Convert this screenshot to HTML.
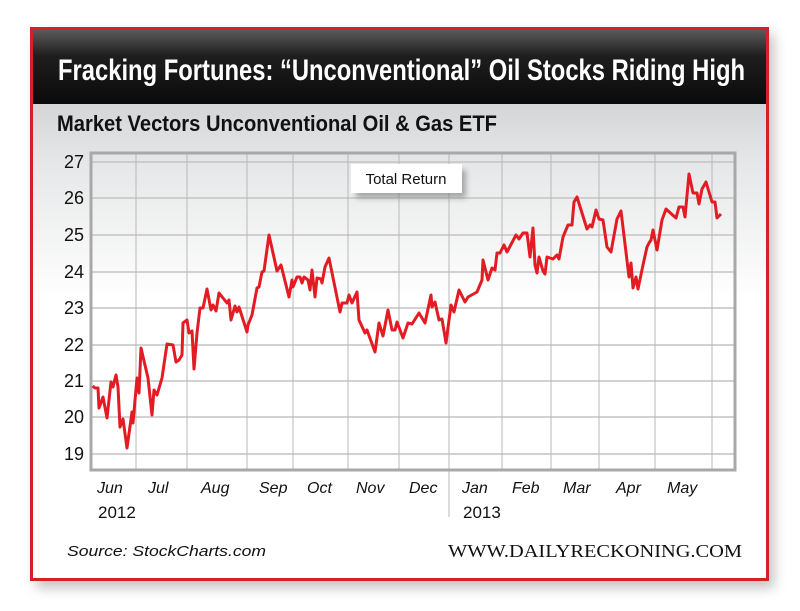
<!DOCTYPE html>
<html><head><meta charset="utf-8"><style>
html,body{margin:0;padding:0;background:#fff;}
svg{display:block}
</style></head><body>
<svg width="800" height="611" viewBox="0 0 800 611" xmlns="http://www.w3.org/2000/svg">
<defs>
<linearGradient id="hdr" x1="0" y1="0" x2="0" y2="1">
<stop offset="0" stop-color="#5a5a5a"/><stop offset="0.35" stop-color="#1e1e1e"/><stop offset="1" stop-color="#0a0a0a"/>
</linearGradient>
<linearGradient id="sub" x1="0" y1="0" x2="0" y2="1">
<stop offset="0" stop-color="#d4d5d7"/><stop offset="0.3" stop-color="#e6e7e8"/><stop offset="1" stop-color="#ffffff"/>
</linearGradient>
<filter id="sh" x="-10%" y="-10%" width="120%" height="120%"><feGaussianBlur stdDeviation="6"/></filter>
<filter id="sh2" x="-20%" y="-40%" width="140%" height="200%"><feGaussianBlur stdDeviation="3"/></filter>
</defs>
<rect x="36" y="34" width="738" height="554" fill="#888" opacity="0.5" filter="url(#sh)"/>
<rect x="30" y="27" width="739" height="554" fill="#fff"/>
<rect x="32" y="30" width="735" height="74" fill="url(#hdr)"/>
<rect x="32" y="104" width="735" height="196" fill="url(#sub)"/>
<rect x="31.5" y="28.5" width="736" height="551" fill="none" stroke="#d42027" stroke-width="3"/>
<text x="58" y="80" font-family="Liberation Sans Narrow, Liberation Sans, sans-serif" font-weight="bold" font-size="30" fill="#fff" textLength="687" lengthAdjust="spacingAndGlyphs">Fracking Fortunes: “Unconventional” Oil Stocks Riding High</text>
<text x="57" y="131" font-family="Liberation Sans Narrow, Liberation Sans, sans-serif" font-weight="bold" font-size="22" fill="#111" textLength="440" lengthAdjust="spacingAndGlyphs">Market Vectors Unconventional Oil &amp; Gas ETF</text>
<g stroke="#c4c4c4" stroke-width="1.5" fill="none">
<line x1="91" y1="162" x2="735" y2="162"/><line x1="91" y1="198" x2="735" y2="198"/>
<line x1="91" y1="235" x2="735" y2="235"/><line x1="91" y1="272" x2="735" y2="272"/>
<line x1="91" y1="308" x2="735" y2="308"/><line x1="91" y1="345" x2="735" y2="345"/>
<line x1="91" y1="381" x2="735" y2="381"/><line x1="91" y1="417" x2="735" y2="417"/>
<line x1="91" y1="454" x2="735" y2="454"/>
</g>
<g stroke="#b8b8b8" stroke-width="1" fill="none">
<line x1="136" y1="153" x2="136" y2="470"/><line x1="187" y1="153" x2="187" y2="470"/>
<line x1="247" y1="153" x2="247" y2="470"/><line x1="293" y1="153" x2="293" y2="470"/>
<line x1="348" y1="153" x2="348" y2="470"/><line x1="399" y1="153" x2="399" y2="470"/>
<line x1="449" y1="153" x2="449" y2="517"/><line x1="502" y1="153" x2="502" y2="470"/>
<line x1="551" y1="153" x2="551" y2="470"/><line x1="599" y1="153" x2="599" y2="470"/>
<line x1="655" y1="153" x2="655" y2="470"/><line x1="712" y1="153" x2="712" y2="470"/>
</g>
<rect x="91" y="153" width="644" height="317" fill="none" stroke="#a8a8a8" stroke-width="3"/>
<rect x="356" y="170" width="110" height="28" fill="#777" opacity="0.6" filter="url(#sh2)"/>
<rect x="351" y="164" width="111" height="29" fill="#fff"/>
<text x="406" y="184" text-anchor="middle" font-family="Liberation Sans, sans-serif" font-size="15" fill="#111">Total Return</text>
<polyline fill="none" stroke="#e31b23" stroke-width="3" stroke-linejoin="round" points="92.7,386 95,388 98,388 99,408 103,397 107,418 111,382 113,387 116,375 118,387 120,427 123,419 127,448 132,412 133,423 137,378 139,393 141,348 148,378 152,415 154,390 157,395 162,378 167,344 173,345 176,362 179,360 182,355 183,323 187,320 189,333 192,331 194,369 197,333 200,308 203,308 207,289 211,310 213,305 216,311 219,293 223,298 227,303 229,300 231,320 235,306 237,312 239,307 247,332 248,325 252,315 257,288 259,287 262,272 264,271 269,235 277,271 281,265 289,297 292,280 293,287 297,277 300,277 302,283 304,277 308,280 310,290 312,270 315,297 317,278 321,279 322,283 325,267 329,258 340,312 342,303 347,303 349,295 352,303 357,292 359,320 365,333 367,330 375,352 379,323 383,336 388,310 392,330 395,330 397,322 403,338 408,323 412,324 419,313 425,323 431,295 432,307 435,302 439,320 442,319 446,343 451,305 454,312 459,290 465,302 468,297 477,292 482,280 483,260 488,280 492,268 495,270 497,253 500,253 504,245 507,252 516,235 519,239 523,233 527,233 530,257 533,228 535,265 537,273 539,257 543,271 545,274 547,257 553,259 557,255 559,259 563,237 568,225 572,225 574,202 577,197 587,229 590,225 592,227 596,210 599,219 603,220 607,247 611,252 617,219 621,211 629,277 631,263 633,288 636,277 638,289 643,265 647,247 649,243 651,240 653,230 657,250 662,220 666,209 676,218 679,207 683,207 685,217 689,174 693,193 697,193 699,204 702,189 706,182 712,202 715,202 717,218 721,214"/>
<g font-family="Liberation Sans, sans-serif" font-size="18" fill="#111" text-anchor="end">
<text x="84" y="168">27</text><text x="84" y="204">26</text><text x="84" y="241">25</text>
<text x="84" y="278">24</text><text x="84" y="314">23</text><text x="84" y="351">22</text>
<text x="84" y="387">21</text><text x="84" y="423">20</text><text x="84" y="460">19</text>
</g>
<g font-family="Liberation Sans, sans-serif" font-size="16" font-style="italic" fill="#111">
<text x="97" y="493">Jun</text><text x="148" y="493">Jul</text><text x="201" y="493">Aug</text>
<text x="259" y="493">Sep</text><text x="307" y="493">Oct</text><text x="356" y="493">Nov</text>
<text x="409" y="493">Dec</text><text x="462" y="493">Jan</text><text x="512" y="493">Feb</text>
<text x="563" y="493">Mar</text><text x="616" y="493">Apr</text><text x="667" y="493">May</text>
</g>
<g font-family="Liberation Sans, sans-serif" font-size="17" fill="#111">
<text x="98" y="518">2012</text><text x="463" y="518">2013</text>
</g>
<text x="67" y="556" font-family="Liberation Sans, sans-serif" font-size="15" font-style="italic" fill="#111" textLength="199" lengthAdjust="spacingAndGlyphs">Source: StockCharts.com</text>
<text x="448" y="557" font-family="Liberation Serif, serif" font-size="18" fill="#111" textLength="294" lengthAdjust="spacingAndGlyphs">WWW.DAILYRECKONING.COM</text>
</svg>
</body></html>
